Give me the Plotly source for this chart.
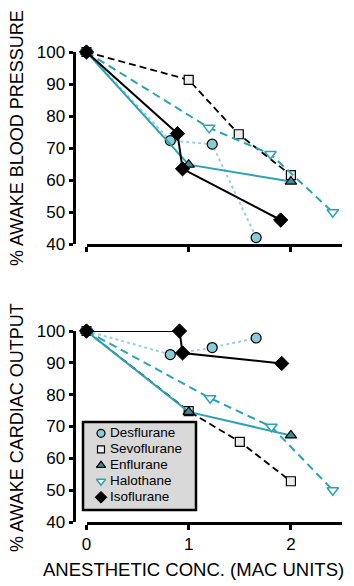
import plotly.graph_objects as go

# ---- data ----
agents = ["Desflurane", "Sevoflurane", "Enflurane", "Halothane", "Isoflurane"]

bp_x = {
    "Desflurane": [0, 0.82, 1.23, 1.66],
    "Sevoflurane": [0, 1.0, 1.49, 2.0],
    "Enflurane": [0, 1.0, 2.0],
    "Halothane": [0, 1.2, 1.8, 2.41],
    "Isoflurane": [0, 0.89, 0.94, 1.90],
}
bp_y = {
    "Desflurane": [100, 72.3, 71.2, 42.0],
    "Sevoflurane": [100, 91.3, 74.3, 61.5],
    "Enflurane": [100, 64.8, 59.5],
    "Halothane": [100, 76.3, 68.1, 49.9],
    "Isoflurane": [100, 74.5, 63.5, 47.5],
}
co_x = {
    "Desflurane": [0, 0.82, 1.23, 1.66],
    "Sevoflurane": [0, 1.0, 1.5, 2.0],
    "Enflurane": [0, 1.0, 2.0],
    "Halothane": [0, 1.21, 1.81, 2.41],
    "Isoflurane": [0, 0.91, 0.94, 1.91],
}
co_y = {
    "Desflurane": [100, 92.6, 94.8, 97.8],
    "Sevoflurane": [100, 74.8, 65.2, 52.8],
    "Enflurane": [100, 74.6, 67.2],
    "Halothane": [100, 78.9, 69.9, 50.0],
    "Isoflurane": [100, 100, 93.1, 89.8],
}

y_ticks = [40, 50, 60, 70, 80, 90, 100]
x_ticks = [0, 1, 2]

# ---- styles ----
TEAL = "#2aa3b5"
LIGHT = "#9ad2dc"
style = {
    "Desflurane": dict(line=dict(color=LIGHT, width=2, dash="3px,3px"),
                       marker=dict(symbol="circle", size=10, color="#8ccbd6",
                                   line=dict(color="black", width=1.2))),
    "Sevoflurane": dict(line=dict(color="black", width=1.8, dash="7px,4px"),
                        marker=dict(symbol="square", size=9, color="#ececec",
                                    line=dict(color="black", width=1.2))),
    "Enflurane": dict(line=dict(color=TEAL, width=2),
                      marker=dict(symbol="triangle-up", size=10, color="#3b8f9c",
                                  line=dict(color="black", width=1.2))),
    "Halothane": dict(line=dict(color=TEAL, width=2, dash="8px,5px"),
                      marker=dict(symbol="triangle-down", size=10, color="white",
                                  line=dict(color=TEAL, width=1.5))),
    "Isoflurane": dict(line=dict(color="black", width=2),
                       marker=dict(symbol="diamond", size=11, color="black",
                                   line=dict(color="black", width=1))),
}
legend_marker_size = {"Desflurane": 8, "Sevoflurane": 7, "Enflurane": 8,
                      "Halothane": 8, "Isoflurane": 9}

fig = go.Figure()
for a in agents:
    fig.add_trace(go.Scatter(x=bp_x[a], y=bp_y[a], mode="lines+markers", xaxis="x", yaxis="y",
                             showlegend=False, cliponaxis=False, **style[a]))
    fig.add_trace(go.Scatter(x=co_x[a], y=co_y[a], mode="lines+markers", xaxis="x2", yaxis="y2",
                             showlegend=False, cliponaxis=False, **style[a]))

W, H = 354, 586
font = "Liberation Sans, Arial, Helvetica, sans-serif"

# ---- legend key (drawn on its own hidden axes, units = pixels inside the box) ----
LB = dict(left=83, right=196, top=422, bottom=510)
row0, row_step = 11.3, 16.0
for i, a in enumerate(agents):
    m = dict(style[a]["marker"])
    m["size"] = legend_marker_size[a]
    yy = row0 + row_step * i
    fig.add_trace(go.Scatter(x=[18], y=[yy], mode="markers", marker=m, xaxis="x3", yaxis="y3",
                             showlegend=False, cliponaxis=False, hoverinfo="skip"))
    fig.add_trace(go.Scatter(x=[27], y=[yy], mode="text", text=[a], textposition="middle right",
                             textfont=dict(family=font, size=13.5, color="black"),
                             xaxis="x3", yaxis="y3", showlegend=False, cliponaxis=False,
                             hoverinfo="skip"))

xdom = [86.5 / W, 342 / W]
ypos = 73.5 / W

common_x = dict(range=[0, 2.5], domain=xdom, showgrid=False, zeroline=False,
                showline=True, linecolor="black", linewidth=3, automargin=False,
                ticks="outside", ticklen=5, tickwidth=3, tickcolor="black",
                tickvals=x_ticks, tickfont=dict(family=font, size=17, color="black"))
common_y = dict(range=[40, 100], showgrid=False, zeroline=False,
                showline=True, linecolor="black", linewidth=3, automargin=False,
                ticks="outside", ticklen=4, tickwidth=3, tickcolor="black",
                tickvals=y_ticks, anchor="free", position=ypos,
                tickfont=dict(family=font, size=17, color="black"))
hidden = dict(visible=False, showgrid=False, zeroline=False, automargin=False, fixedrange=True)

fig.update_layout(
    width=W, height=H, margin=dict(l=0, r=0, t=0, b=0, autoexpand=False),
    paper_bgcolor="white", plot_bgcolor="rgba(0,0,0,0)",
    showlegend=False,
    xaxis=dict(common_x, anchor="y", showticklabels=False),
    yaxis=dict(common_y, domain=[1 - 244 / H, 1 - 52 / H]),
    xaxis2=dict(common_x, anchor="y2"),
    yaxis2=dict(common_y, domain=[1 - 522 / H, 1 - 331 / H]),
    xaxis3=dict(hidden, domain=[LB["left"] / W, LB["right"] / W],
                range=[0, LB["right"] - LB["left"]], anchor="y3"),
    yaxis3=dict(hidden, domain=[1 - LB["bottom"] / H, 1 - LB["top"] / H],
                range=[LB["bottom"] - LB["top"], 0], anchor="x3"),
    shapes=[dict(type="rect", xref="paper", yref="paper", layer="below",
                 x0=LB["left"] / W, x1=LB["right"] / W,
                 y0=1 - LB["bottom"] / H, y1=1 - LB["top"] / H,
                 fillcolor="#d9d9d9", line=dict(color="black", width=2.5))],
    annotations=[
        dict(text="% AWAKE BLOOD PRESSURE", xref="paper", yref="paper",
             x=17 / W, y=1 - 138 / H, xanchor="center", yanchor="middle",
             textangle=-90, showarrow=False,
             font=dict(family=font, size=18, color="black")),
        dict(text="% AWAKE CARDIAC OUTPUT", xref="paper", yref="paper",
             x=17 / W, y=1 - 428 / H, xanchor="center", yanchor="middle",
             textangle=-90, showarrow=False,
             font=dict(family=font, size=18, color="black")),
        dict(text="ANESTHETIC CONC. (MAC UNITS)", xref="paper", yref="paper",
             x=194 / W, y=1 - 569 / H, xanchor="center", yanchor="middle",
             showarrow=False,
             font=dict(family=font, size=18.5, color="black")),
    ],
)

fig.write_html("out.html")
